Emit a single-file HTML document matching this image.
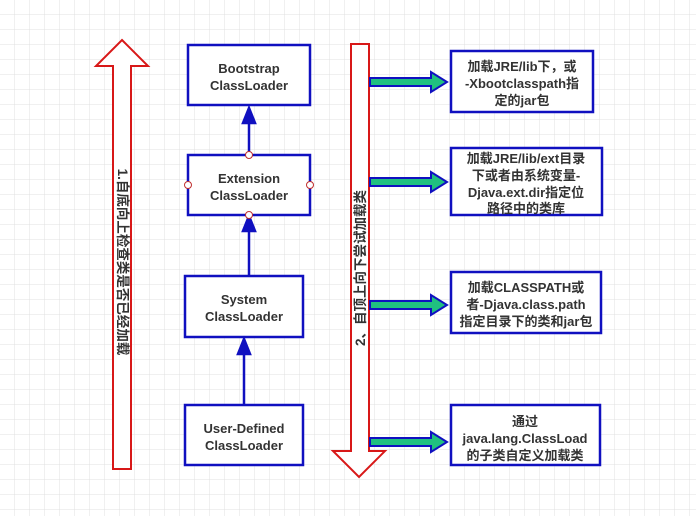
<!DOCTYPE html>
<html><head><meta charset="utf-8"><style>
body{margin:0;width:696px;height:516px;overflow:hidden;background:#fff;}
svg{display:block}
text{font-family:"Liberation Sans","Noto Sans CJK SC",sans-serif;font-size:13px;font-weight:bold;fill:#333;text-anchor:middle}
</style></head><body>
<svg width="696" height="516" xmlns="http://www.w3.org/2000/svg">
<defs>
<pattern id="g" width="15" height="15" patternUnits="userSpaceOnUse">
<path d="M15 0V15H0" fill="none" stroke="#e0e0e0" stroke-width="1"/>
</pattern>
</defs>
<rect width="696" height="516" fill="url(#g)"/>
<polygon points="122,40 148,66 131,66 131,469 113,469 113,66 96,66" fill="#fff" stroke="#d81818" stroke-width="2"/>
<text transform="translate(122,262) rotate(90)" dy="4" style="font-size:13.5px">1.自底向上检查类是否已经加载</text>
<polygon points="351,44 369,44 369,451 385,451 359,477 333,451 351,451" fill="#fff" stroke="#d81818" stroke-width="2"/>
<text transform="translate(361,268) rotate(-90)" dy="4" style="font-size:13.5px">2、自顶上向下尝试加载类</text>
<g fill="#fff" stroke="#1010c0" stroke-width="2.5">
<rect x="188" y="45" width="122" height="60"/>
<rect x="188" y="155" width="122" height="60"/>
<rect x="185" y="276" width="118" height="61"/>
<rect x="185" y="405" width="118" height="60"/>
<rect x="451" y="51" width="142" height="61"/>
<rect x="451" y="148" width="151" height="67"/>
<rect x="451" y="272" width="150" height="61"/>
<rect x="451" y="405" width="149" height="60"/>
</g>
<g stroke="#1010c0" stroke-width="2.5" fill="#1010c0">
<line x1="249" y1="155" x2="249" y2="120"/><polygon points="249,108 243,123 255,123"/>
<line x1="249" y1="276" x2="249" y2="230"/><polygon points="249,216 243,231 255,231"/>
<line x1="244" y1="405" x2="244" y2="352"/><polygon points="244,339 238,354 250,354"/>
</g>
<g fill="#fff" stroke="#c03030" stroke-width="1">
<circle cx="249" cy="155" r="3.5"/><circle cx="249" cy="215" r="3.5"/>
<circle cx="188" cy="185" r="3.5"/><circle cx="310" cy="185" r="3.5"/>
</g>
<g fill="#20c080" stroke="#1010c0" stroke-width="2">
<polygon points="370,78 431,78 431,72 447,82 431,92 431,86 370,86"/>
<polygon points="370,178 431,178 431,172 447,182 431,192 431,186 370,186"/>
<polygon points="370,301 431,301 431,295 447,305 431,315 431,309 370,309"/>
<polygon points="370,438 431,438 431,432 447,442 431,452 431,446 370,446"/>
</g>
<text x="249" y="73">Bootstrap</text><text x="249" y="90">ClassLoader</text>
<text x="249" y="183">Extension</text><text x="249" y="200">ClassLoader</text>
<text x="244" y="304">System</text><text x="244" y="321">ClassLoader</text>
<text x="244" y="433">User-Defined</text><text x="244" y="450">ClassLoader</text>
<text x="522" y="71">加载JRE/lib下，或</text>
<text x="522" y="88">-Xbootclasspath指</text>
<text x="522" y="105">定的jar包</text>
<text x="526" y="163">加载JRE/lib/ext目录</text>
<text x="526" y="180">下或者由系统变量-</text>
<text x="526" y="197">Djava.ext.dir指定位</text>
<text x="526" y="213">路径中的类库</text>
<text x="526" y="292">加载CLASSPATH或</text>
<text x="526" y="309">者-Djava.class.path</text>
<text x="526" y="326">指定目录下的类和jar包</text>
<text x="525" y="426">通过</text>
<text x="525" y="443">java.lang.ClassLoad</text>
<text x="525" y="460">的子类自定义加载类</text>
</svg>
</body></html>
